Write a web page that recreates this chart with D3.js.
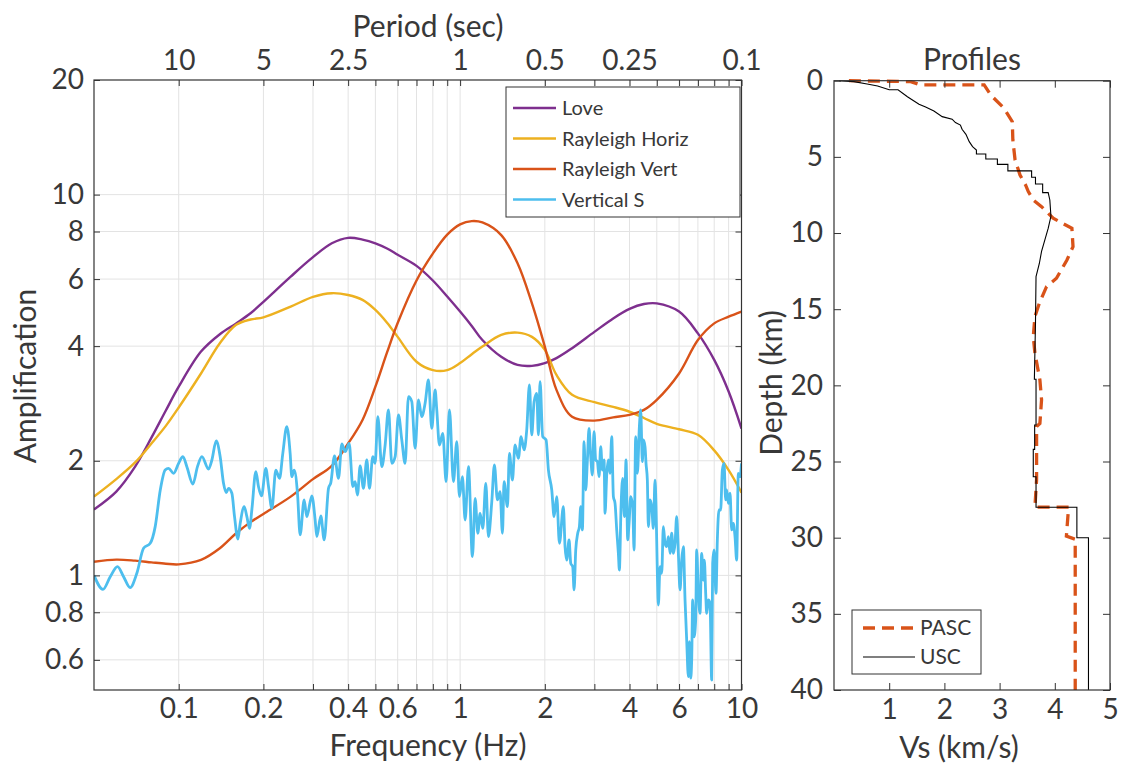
<!DOCTYPE html>
<html>
<head>
<meta charset="utf-8">
<script src="https://cdn.jsdelivr.net/npm/d3@7"></script>
<style>
    body { margin: 0; background: #fff; }
    text { font-family: Lato, "Open Sans", sans-serif; fill: #383838; }
</style>
</head>
<body>
<div id="chart"></div>
<script>
// ---- amplification panel data ----
let curveFreq = [0.05, 0.06, 0.07, 0.08, 0.09, 0.1, 0.12, 0.14, 0.16, 0.18, 0.2, 0.25, 0.3, 0.35, 0.4, 0.45, 0.5, 0.55, 0.6, 0.7,
    0.8, 0.9, 1, 1.1, 1.2, 1.4, 1.6, 1.8, 2, 2.2, 2.5, 3, 3.5, 4, 4.5, 5, 6, 7, 8, 9, 10];
let loveAmp = [1.49, 1.66, 1.93, 2.30, 2.71, 3.13, 3.87, 4.30, 4.59, 4.88, 5.23, 6.09, 6.85, 7.45, 7.70, 7.62, 7.45, 7.22, 6.95, 6.50,
    5.95, 5.40, 4.93, 4.52, 4.15, 3.75, 3.57, 3.55, 3.61, 3.72, 3.95, 4.36, 4.73, 5.01, 5.16, 5.18, 4.93, 4.32, 3.68, 3.04, 2.43];
let rayHorizAmp = [1.61, 1.79, 1.98, 2.22, 2.47, 2.76, 3.39, 4.07, 4.55, 4.70, 4.76, 5.08, 5.39, 5.51, 5.45, 5.29, 4.98, 4.61, 4.23, 3.64,
    3.46, 3.46, 3.61, 3.81, 3.99, 4.28, 4.34, 4.23, 3.91, 3.36, 2.98, 2.85, 2.77, 2.69, 2.59, 2.50, 2.42, 2.34, 2.13, 1.89, 1.65];
let rayVertAmp = [1.086, 1.10, 1.093, 1.082, 1.073, 1.069, 1.098, 1.178, 1.29, 1.38, 1.45, 1.61, 1.79, 1.94, 2.22, 2.56, 3.13, 3.85, 4.6, 5.95,
    7.0, 7.85, 8.35, 8.52, 8.45, 7.83, 6.60, 5.18, 3.99, 3.07, 2.61, 2.55, 2.60, 2.64, 2.72, 2.89, 3.39, 4.15, 4.59, 4.78, 4.93];

let vsFreq = [0.050, 0.0538, 0.0571, 0.0606, 0.0637, 0.0672, 0.0710, 0.0750, 0.0792, 0.0825, 0.0860, 0.0895, 0.0920, 0.0959, 0.0999,
    0.1035, 0.1069, 0.1123, 0.1166, 0.1209, 0.1276, 0.1312, 0.1359, 0.1404, 0.1443, 0.1475, 0.1503, 0.1545, 0.1579, 0.1623, 0.1654,
    0.1709, 0.1747, 0.1785, 0.1819, 0.1880, 0.1921, 0.1969, 0.2040, 0.2085, 0.2143, 0.2214, 0.2282, 0.2344, 0.2422, 0.2489, 0.2523,
    0.2572, 0.2643, 0.2701, 0.2791, 0.2853, 0.2972, 0.3054, 0.3096, 0.3199, 0.3288, 0.3407, 0.3472, 0.3578, 0.3697, 0.3799, 0.3904,
    0.4034, 0.4157, 0.4236, 0.4318, 0.4413, 0.4535, 0.4660, 0.4763, 0.4895, 0.4989, 0.5100, 0.5269, 0.5415, 0.5564, 0.5719, 0.5877,
    0.6039, 0.6206, 0.6377, 0.6553, 0.6735, 0.6921, 0.7112,
    0.7307, 0.7510, 0.7719, 0.7931, 0.8151, 0.8262, 0.8444, 0.8677, 0.8918, 0.9165, 0.9469, 0.9731, 0.9945, 1.019, 1.042, 1.071,
    1.106, 1.131, 1.156, 1.178, 1.204, 1.234, 1.261, 1.296, 1.324, 1.357, 1.387, 1.414, 1.433, 1.473, 1.497, 1.534, 1.568, 1.611,
    1.647, 1.688, 1.725, 1.763, 1.797, 1.832, 1.872, 1.898, 1.924, 1.966, 2.021, 2.060, 2.117, 2.158, 2.205, 2.254,
    2.328, 2.360, 2.393, 2.439, 2.473, 2.513, 2.541, 2.576, 2.618, 2.654, 2.683, 2.720, 2.757, 2.795, 2.834, 2.872, 2.912, 2.951,
    2.992, 3.033, 3.075, 3.117, 3.160, 3.204, 3.248, 3.274, 3.319, 3.365, 3.411, 3.458, 3.505, 3.553, 3.602, 3.651, 3.681, 3.732,
    3.783, 3.835, 3.888, 3.941, 3.985, 4.040, 4.107, 4.151, 4.207, 4.266, 4.336, 4.383, 4.443, 4.480, 4.541, 4.578, 4.628, 4.667,
    4.731, 4.796, 4.862, 4.928, 4.969, 5.023, 5.065, 5.134, 5.205, 5.276, 5.349, 5.423, 5.497, 5.572, 5.649, 5.726, 5.805, 5.884,
    5.965, 6.047, 6.130, 6.215, 6.300, 6.386, 6.474, 6.527, 6.598, 6.653, 6.707, 6.781, 6.874, 6.930, 7.025, 7.122, 7.219, 7.318,
    7.379, 7.460, 7.521, 7.624, 7.729, 7.834, 7.899, 7.985, 8.117, 8.206, 8.318, 8.433, 8.549, 8.666, 8.786, 8.858, 8.980, 9.103,
    9.229, 9.354, 9.483, 9.612, 9.743, 9.879, 10.0];
let vsAmp = [1.00, 0.919, 0.992, 1.054, 0.992, 0.929, 1.013, 1.178, 1.214, 1.343, 1.676, 1.891, 1.911, 1.854, 1.969,
    2.050, 1.930, 1.738, 1.930, 2.050, 1.903, 2.009, 2.254, 2.050, 1.745, 1.650, 1.693, 1.643, 1.426, 1.246, 1.370,
    1.515, 1.426, 1.329, 1.485, 1.873, 1.711, 1.617, 1.911, 1.711, 1.500, 1.891, 1.798, 2.092, 2.458, 2.092, 1.816,
    1.891, 1.643, 1.277, 1.578, 1.426, 1.617, 1.398, 1.264, 1.432, 1.239, 1.693, 1.752, 2.059, 1.798, 2.214, 2.113,
    2.223, 1.711, 1.763, 1.626, 1.938, 1.693, 2.009, 1.693, 2.050, 1.969, 2.612, 1.930, 2.200, 2.719, 1.969, 2.050,
    2.638, 2.268, 1.969, 2.948, 2.860, 2.157, 2.889,
    2.611, 2.830, 3.260, 2.433, 3.068, 2.719, 2.200, 2.361, 1.763, 2.719, 1.763, 2.245, 1.610, 1.816, 1.398, 1.930,
    1.120, 1.594, 1.290, 1.455, 1.329, 1.745, 1.264, 1.562, 1.950, 1.578, 1.660, 1.290, 1.763, 1.515, 2.092, 1.780, 2.200, 2.030,
    2.314, 2.135, 2.410, 3.164, 2.338, 2.859, 3.007, 2.338, 3.227, 2.314, 2.268, 1.891, 1.676, 1.427, 1.610, 1.214,
    1.515, 1.190, 1.097, 1.239, 1.076, 1.054, 0.916, 1.166, 1.290, 1.343, 1.515, 1.316, 2.245, 1.676, 2.009, 2.433, 2.050, 1.835,
    2.385, 2.009, 1.989, 1.816, 2.178, 1.891, 2.009, 1.455, 1.835, 2.009, 1.854, 2.314, 1.610, 1.546, 1.316, 1.143, 1.033, 1.515,
    1.798, 1.426, 2.009, 1.239, 1.370, 1.610, 1.515, 1.166, 2.314, 1.854, 2.458, 2.719, 1.989, 2.268, 2.178, 1.969, 1.780, 1.343,
    1.578, 1.515, 1.329, 1.780, 1.515, 1.013, 0.836, 1.054, 1.013, 1.343, 1.214, 1.190, 1.264, 1.143, 1.290, 1.143, 1.214, 1.426,
    1.143, 0.916, 1.097, 1.190, 0.862, 0.676, 0.542, 0.670, 0.537, 0.600, 0.862, 0.690, 0.764, 1.166, 0.897, 0.795, 1.143, 0.972,
    1.097, 0.897, 0.795, 0.862, 0.845, 0.531, 1.076, 1.166, 0.897, 1.239, 1.485, 1.485, 1.891, 1.969, 1.578, 1.676, 1.546, 1.643,
    1.316, 1.370, 1.264, 1.097, 1.854, 1.816, 1.969];

let seriesNames = ['Love', 'Rayleigh Horiz', 'Rayleigh Vert', 'Vertical S'];
let seriesColors = ['#7E2F8E', '#EDB120', '#D95319', '#4DBEEE'];

let freqTicks = [0.1, 0.2, 0.3, 0.4, 0.5, 0.6, 0.7, 0.8, 0.9, 1, 2, 3, 4, 5, 6, 7, 8, 9, 10];
let freqLabels = [0.1, 0.2, 0.4, 0.6, 1, 2, 4, 6, 10];
let periodLabels = [10, 5, 2.5, 1, 0.5, 0.25, 0.1];
let ampTicks = [0.6, 0.8, 1, 2, 4, 6, 8, 10, 20];

// ---- velocity profiles (Vs km/s, depth km) ----
let pascVs = [0.27, 1.39, 1.57, 2.72, 2.84, 3.08, 3.23, 3.24, 3.28, 3.37, 3.47, 3.52, 3.61, 3.76, 3.88, 3.97, 4.31, 4.33,
    4.22, 4.03, 3.85, 3.72, 3.64, 3.61, 3.64, 3.73, 3.76, 3.73, 3.67, 3.67, 3.64, 4.25, 4.21, 4.37, 4.37];
let pascDepth = [0, 0.06, 0.28, 0.28, 0.94, 1.81, 2.69, 3.89, 5.2, 6.19, 6.84, 7.28, 7.83, 8.27, 8.7, 9.03, 9.69, 10.89,
    11.77, 12.97, 13.52, 14.61, 15.48, 16.8, 17.89, 19.64, 20.95, 22.5, 22.7, 26.2, 28, 28, 29.9, 30.1, 40];
let uscVs = [0.09, 0.36, 0.60, 0.79, 1.0, 1.16, 1.33, 1.54, 1.66, 1.81, 1.96, 2.14, 2.20, 2.29, 2.32, 2.39, 2.45, 2.51, 2.58,
    2.58, 2.75, 2.75, 2.96, 2.96, 3.15, 3.15, 3.58, 3.58, 3.65, 3.65, 3.78, 3.78, 3.88, 3.91, 3.93, 3.88, 3.82, 3.76, 3.72,
    3.66, 3.65, 3.63, 3.66, 3.66, 3.635, 3.635, 3.61, 3.61, 3.66, 3.66, 4.40, 4.40, 4.61, 4.61];
let uscDepth = [0, 0.06, 0.22, 0.35, 0.59, 0.59, 1.05, 1.55, 1.73, 1.99, 2.36, 2.53, 2.75, 2.91, 3.19, 3.52, 4.0, 4.33, 4.55,
    4.81, 4.81, 5.14, 5.14, 5.49, 5.49, 5.92, 5.92, 6.34, 6.34, 6.78, 6.78, 7.35, 7.35, 7.83, 8.9, 9.7, 10.45, 11.2, 12.0,
    12.86, 15.9, 19.6, 19.6, 22.6, 22.6, 24.2, 24.2, 26.0, 26.0, 28.0, 28.0, 30.0, 30.0, 40];
let profileNames = ['PASC', 'USC'];
let depthTicks = [0, 5, 10, 15, 20, 25, 30, 35, 40];
let vsTicks = [1, 2, 3, 4, 5];

// ---- layout ----
let width = 1121, height = 766;
let ampBox = {left: 94, right: 741.5, top: 80, bottom: 690};
let profBox = {left: 834, right: 1110, top: 80.7, bottom: 690};
let axisColor = '#333';
let tickFont = '28px', labelFont = '30px';

let svg = d3.select('#chart').append('svg')
    .attr('width', width)
    .attr('height', height)
    .style('font-family', 'Lato, sans-serif');

let xScale = d3.scaleLog().domain([0.05, 10]).range([ampBox.left, ampBox.right]);
let yScale = d3.scaleLog().domain([0.5, 20]).range([ampBox.bottom, ampBox.top]);

// grid
let grid_g = svg.append('g').attr('class', 'grid');
grid_g.selectAll('.vgrid')
    .data(freqTicks.filter(d => d < 10))
    .join('line')
    .attr('x1', d => xScale(d)).attr('x2', d => xScale(d))
    .attr('y1', ampBox.top).attr('y2', ampBox.bottom)
    .attr('stroke', '#e3e3e3').attr('stroke-width', 1);
grid_g.selectAll('.hgrid')
    .data(ampTicks.filter(d => d < 20))
    .join('line')
    .attr('x1', ampBox.left).attr('x2', ampBox.right)
    .attr('y1', d => yScale(d)).attr('y2', d => yScale(d))
    .attr('stroke', '#e3e3e3').attr('stroke-width', 1);

// curves
svg.append('clipPath').attr('id', 'ampClip')
    .append('rect')
    .attr('x', ampBox.left).attr('y', ampBox.top)
    .attr('width', ampBox.right - ampBox.left).attr('height', ampBox.bottom - ampBox.top);

let smoothLine = d3.line()
    .x(d => xScale(d[0]))
    .y(d => yScale(d[1]))
    .curve(d3.curveCatmullRom.alpha(0.5));
let noisyLine = d3.line()
    .x(d => xScale(d[0]))
    .y(d => yScale(d[1]))
    .curve(d3.curveMonotoneX);

let curves_g = svg.append('g').attr('clip-path', 'url(#ampClip)');
[loveAmp, rayHorizAmp, rayVertAmp].forEach((amp, i) => {
    curves_g.append('path')
        .datum(d3.zip(curveFreq, amp))
        .attr('d', smoothLine)
        .attr('fill', 'none')
        .attr('stroke', seriesColors[i])
        .attr('stroke-width', 2.4);
});
curves_g.append('path')
    .datum(d3.zip(vsFreq, vsAmp))
    .attr('d', noisyLine)
    .attr('fill', 'none')
    .attr('stroke', seriesColors[3])
    .attr('stroke-width', 2.8)
    .attr('stroke-linejoin', 'round');

// axes
function styleAxis(g) {
    g.select('.domain').remove();
    g.selectAll('.tick line').attr('stroke', axisColor).attr('stroke-width', 1);
    g.selectAll('.tick text').attr('fill', '#383838').style('font-size', tickFont).style('font-family', 'Lato, sans-serif');
}

svg.append('g')
    .attr('transform', `translate(0, ${ampBox.bottom})`)
    .call(d3.axisBottom(xScale).tickValues(freqTicks).tickSize(-6).tickSizeOuter(0).tickPadding(8)
        .tickFormat(d => freqLabels.indexOf(d) !== -1 ? d : ''))
    .call(styleAxis);

svg.append('g')
    .attr('transform', `translate(0, ${ampBox.top})`)
    .call(d3.axisTop(xScale).tickValues(freqTicks).tickSize(-6).tickSizeOuter(0).tickPadding(10)
        .tickFormat(function (d) {
            let p = periodLabels.find(p => Math.abs(1 / p - d) < 1e-9);
            return p === undefined ? '' : p;
        }))
    .call(styleAxis);

svg.append('g')
    .attr('transform', `translate(${ampBox.left}, 0)`)
    .call(d3.axisLeft(yScale).tickValues(ampTicks).tickSize(-6).tickSizeOuter(0).tickPadding(10)
        .tickFormat(d => d))
    .call(styleAxis);

svg.append('g')
    .attr('transform', `translate(${ampBox.right}, 0)`)
    .call(d3.axisRight(yScale).tickValues(ampTicks).tickSize(-6).tickSizeOuter(0).tickFormat(''))
    .call(styleAxis);

svg.append('rect')
    .attr('x', ampBox.left).attr('y', ampBox.top)
    .attr('width', ampBox.right - ampBox.left).attr('height', ampBox.bottom - ampBox.top)
    .attr('fill', 'none').attr('stroke', axisColor).attr('stroke-width', 1.2);

svg.append('text')
    .attr('x', 428).attr('y', 37)
    .attr('text-anchor', 'middle')
    .style('font-size', labelFont)
    .text('Period (sec)');
svg.append('text')
    .attr('x', 428).attr('y', 756)
    .attr('text-anchor', 'middle')
    .style('font-size', labelFont)
    .text('Frequency (Hz)');
svg.append('text')
    .attr('transform', 'translate(36, 376) rotate(-90)')
    .attr('text-anchor', 'middle')
    .style('font-size', labelFont)
    .text('Amplification');

// legend
let legend_g = svg.append('g').attr('transform', 'translate(506, 87)');
legend_g.append('rect')
    .attr('width', 234).attr('height', 130)
    .attr('fill', '#fff').attr('stroke', axisColor).attr('stroke-width', 1);
let legendItem = legend_g.selectAll('.item')
    .data(seriesNames)
    .join('g')
    .attr('transform', (d, i) => `translate(0, ${21 + i * 30.5})`);
legendItem.append('line')
    .attr('x1', 7).attr('x2', 50)
    .attr('stroke', (d, i) => seriesColors[i])
    .attr('stroke-width', 2.5);
legendItem.append('text')
    .attr('x', 56).attr('dy', '0.35em')
    .style('font-size', '20px')
    .text(d => d);

// ---- profiles panel ----
let vScale = d3.scaleLinear().domain([0, 5]).range([profBox.left, profBox.right]);
let dScale = d3.scaleLinear().domain([0, 40]).range([profBox.top, profBox.bottom]);

let profLine = d3.line()
    .x(d => vScale(d[0]))
    .y(d => dScale(d[1]));

svg.append('path')
    .datum(d3.zip(pascVs, pascDepth))
    .attr('d', profLine)
    .attr('fill', 'none')
    .attr('stroke', '#D95319')
    .attr('stroke-width', 3.3)
    .attr('stroke-dasharray', '12,7');
svg.append('path')
    .datum(d3.zip(uscVs, uscDepth))
    .attr('d', profLine)
    .attr('fill', 'none')
    .attr('stroke', '#000')
    .attr('stroke-width', 1.1);

svg.append('g')
    .attr('transform', `translate(0, ${profBox.bottom})`)
    .call(d3.axisBottom(vScale).tickValues(vsTicks).tickSize(-7).tickSizeOuter(0).tickPadding(9).tickFormat(d => d))
    .call(styleAxis);
svg.append('g')
    .attr('transform', `translate(0, ${profBox.top})`)
    .call(d3.axisTop(vScale).tickValues(vsTicks).tickSize(-7).tickSizeOuter(0).tickFormat(''))
    .call(styleAxis);
svg.append('g')
    .attr('transform', `translate(${profBox.left}, 0)`)
    .call(d3.axisLeft(dScale).tickValues(depthTicks).tickSize(-7).tickSizeOuter(0).tickPadding(11).tickFormat(d => d))
    .call(styleAxis);
svg.append('g')
    .attr('transform', `translate(${profBox.right}, 0)`)
    .call(d3.axisRight(dScale).tickValues(depthTicks).tickSize(-7).tickSizeOuter(0).tickFormat(''))
    .call(styleAxis);

svg.append('rect')
    .attr('x', profBox.left).attr('y', profBox.top)
    .attr('width', profBox.right - profBox.left).attr('height', profBox.bottom - profBox.top)
    .attr('fill', 'none').attr('stroke', axisColor).attr('stroke-width', 1.2);

svg.append('text')
    .attr('x', 972).attr('y', 70)
    .attr('text-anchor', 'middle')
    .style('font-size', labelFont)
    .text('Profiles');
svg.append('text')
    .attr('x', 959).attr('y', 758)
    .attr('text-anchor', 'middle')
    .style('font-size', labelFont)
    .text('Vs (km/s)');
svg.append('text')
    .attr('transform', 'translate(782, 383) rotate(-90)')
    .attr('text-anchor', 'middle')
    .style('font-size', labelFont)
    .text('Depth (km)');

let profLegend_g = svg.append('g').attr('transform', 'translate(852, 610)');
profLegend_g.append('rect')
    .attr('width', 129).attr('height', 64)
    .attr('fill', '#fff').attr('stroke', axisColor).attr('stroke-width', 1);
let profItem = profLegend_g.selectAll('.pitem')
    .data(profileNames)
    .join('g')
    .attr('transform', (d, i) => `translate(0, ${18 + i * 29})`);
profItem.append('line')
    .attr('x1', 11).attr('x2', 63)
    .attr('stroke', (d, i) => i === 0 ? '#D95319' : '#000')
    .attr('stroke-width', (d, i) => i === 0 ? 3.3 : 1.1)
    .attr('stroke-dasharray', (d, i) => i === 0 ? '12,7' : null);
profItem.append('text')
    .attr('x', 68).attr('dy', '0.35em')
    .style('font-size', '21px')
    .text(d => d);
</script>
</body>
</html>
